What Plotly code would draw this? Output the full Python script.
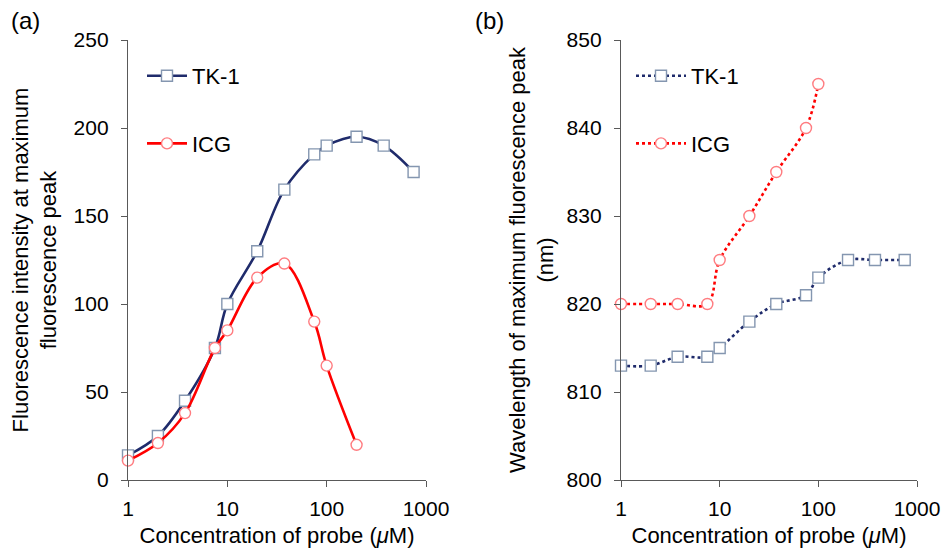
import plotly.graph_objects as go

# Probe concentrations (uM)
tk_conc = [1, 2, 3.75, 7.5, 10, 20, 37.5, 75, 100, 200, 375, 750]
icg_conc_a = [1, 2, 3.75, 7.5, 10, 20, 37.5, 75, 100, 200]
icg_conc_b = [1, 2, 3.75, 7.5, 10, 20, 37.5, 75, 100]

# (a) fluorescence intensity at the maximum fluorescence peak
tk_intensity = [14, 25, 45, 75, 100, 130, 165, 185, 190, 195, 190, 175]
icg_intensity = [11, 21, 38, 75, 85, 115, 123, 90, 65, 20]

# (b) wavelength of the maximum fluorescence peak (nm)
tk_wavelength = [813, 813, 814, 814, 815, 818, 820, 821, 823, 825, 825, 825]
icg_wavelength = [820, 820, 820, 820, 825, 830, 835, 840, 845]

x_tickvals = [1, 10, 100, 1000]
x_ticktext = ["1", "10", "100", "1000"]

NAVY = "#1F2B6B"
NAVY_MARK = "#8496B0"
RED = "#FF0000"
RED_MARK = "#FF7C80"
AXIS = "#595959"
FONT = "Arial, Liberation Sans, sans-serif"
W, H = 942, 552

fig = go.Figure()

def add_series(x, y, name, line_color, mark_color, symbol, dash, xa, ya, legend):
    fig.add_trace(go.Scatter(
        x=x, y=y, name=name, mode="lines+markers",
        xaxis=xa, yaxis=ya, legend=legend, legendgroup=legend + name,
        line=dict(color=line_color, width=2.6, dash=dash, shape="spline", smoothing=1),
        marker=dict(symbol=symbol, size=11, color="white",
                    line=dict(color=mark_color, width=1.4)),
        cliponaxis=False, hoverinfo="x+y+name",
    ))

add_series(tk_conc, tk_intensity, "TK-1", NAVY, NAVY_MARK, "square", "solid", "x", "y", "legend")
add_series(icg_conc_a, icg_intensity, "ICG", RED, RED_MARK, "circle", "solid", "x", "y", "legend")
add_series(tk_conc, tk_wavelength, "TK-1", NAVY, NAVY_MARK, "square", "dot", "x2", "y2", "legend2")
add_series(icg_conc_b, icg_wavelength, "ICG", RED, RED_MARK, "circle", "dot", "x2", "y2", "legend2")

def px_x(v):
    return v / W

def px_y(v):
    return 1 - v / H

TITLE_FONT = dict(size=22, color="black", family=FONT)
TICK_FONT = dict(size=21, color="black", family=FONT)

common_x = dict(
    type="log", range=[0, 3], tickvals=x_tickvals, ticktext=x_ticktext,
    showline=True, linecolor=AXIS, linewidth=1.3, ticks="outside", ticklen=6,
    tickcolor=AXIS, tickwidth=1.3, showgrid=False, zeroline=False,
    tickfont=TICK_FONT, ticklabelstandoff=4,
    title=dict(text="Concentration of probe (<i>μ</i>M)", font=TITLE_FONT, standoff=8),
    automargin=False,
)
common_y = dict(
    showline=True, linecolor=AXIS, linewidth=1.3, ticks="outside", ticklen=6,
    tickcolor=AXIS, tickwidth=1.3, showgrid=False, zeroline=False,
    tickfont=TICK_FONT, ticklabelstandoff=8,
    automargin=False,
)

fig.update_layout(
    width=W, height=H,
    margin=dict(l=0, r=0, t=0, b=0),
    paper_bgcolor="white", plot_bgcolor="white",
    font=dict(family=FONT, color="black", size=21),
    xaxis=dict(common_x, domain=[px_x(128), px_x(426)], anchor="y"),
    xaxis2=dict(common_x, domain=[px_x(621), px_x(917)], anchor="y2"),
    yaxis=dict(common_y, domain=[px_y(480), px_y(40)], range=[0, 250], dtick=50,
               anchor="x",
               title=dict(text="Fluorescence intensity at maximum<br>fluorescence peak",
                          font=TITLE_FONT, standoff=10)),
    yaxis2=dict(common_y, domain=[px_y(480), px_y(40)], range=[800, 850], dtick=10,
                anchor="x2",
                title=dict(text="Wavelength of maximum fluorescence peak<br>(nm)",
                           font=TITLE_FONT, standoff=6)),
    legend=dict(x=px_x(142), y=px_y(55), xanchor="left", yanchor="top",
                bgcolor="rgba(0,0,0,0)", font=dict(size=22, family=FONT),
                tracegroupgap=36, itemwidth=40),
    legend2=dict(x=px_x(631), y=px_y(55), xanchor="left", yanchor="top",
                 bgcolor="rgba(0,0,0,0)", font=dict(size=22, family=FONT),
                 tracegroupgap=36, itemwidth=50),
    showlegend=True,
    annotations=[
        dict(text="(a)", x=px_x(9), y=px_y(20), xref="paper", yref="paper",
             xanchor="left", yanchor="middle", showarrow=False,
             font=dict(size=24, family=FONT, color="black")),
        dict(text="(b)", x=px_x(473), y=px_y(20), xref="paper", yref="paper",
             xanchor="left", yanchor="middle", showarrow=False,
             font=dict(size=24, family=FONT, color="black")),
    ],
)

fig.write_html("out.html")
